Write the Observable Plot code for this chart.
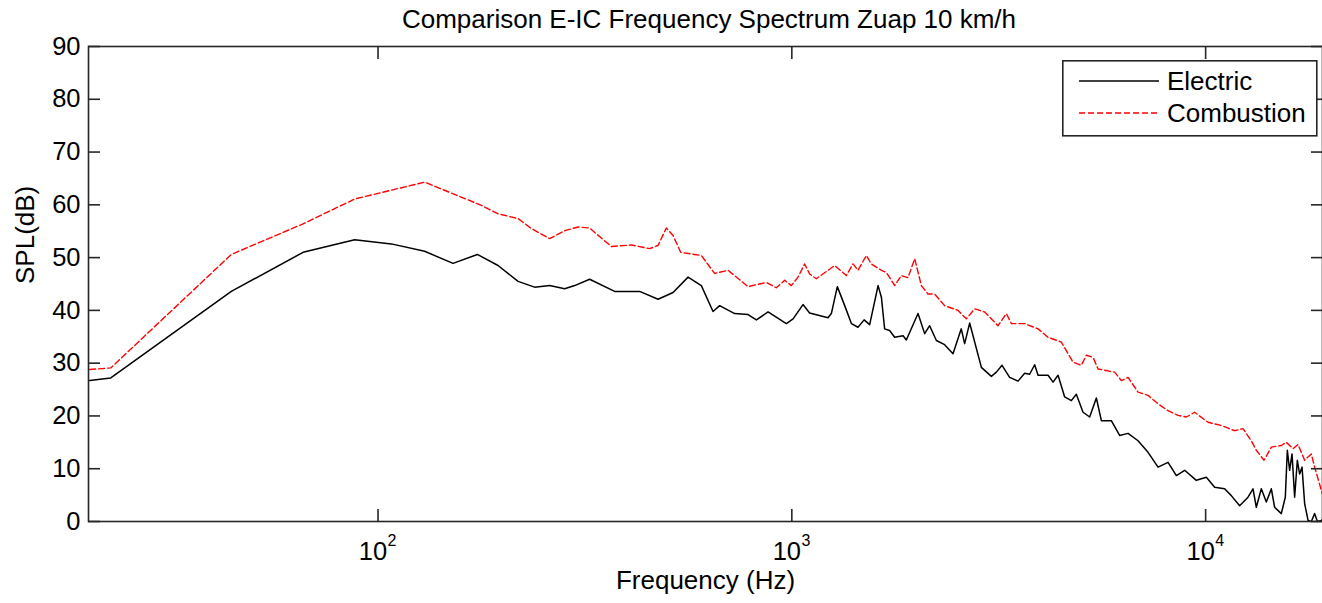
<!DOCTYPE html>
<html>
<head>
<meta charset="utf-8">
<script src="https://cdn.jsdelivr.net/npm/d3@7"></script>
<script src="https://cdn.jsdelivr.net/npm/@observablehq/plot@0.6"></script>
<style>
  html, body { margin: 0; padding: 0; background: #fff; overflow: hidden; }
  body { font-family: "Liberation Sans", Arial, sans-serif; }
  #wrap { position: relative; width: 1322px; height: 603px; overflow: hidden; }
  #title { position: absolute; left: 0; top: 4px; width: 1418px; text-align: center;
           font-size: 26px; line-height: 30px; color: #000; white-space: nowrap; }
  #legend { position: absolute; left: 1062px; top: 60px; }
</style>
</head>
<body>
<div id="wrap">
  <div id="chart"></div>
  <div id="title">Comparison E-IC Frequency Spectrum Zuap 10 km/h</div>
  <div id="legend"></div>
</div>
<script>
// Frequencies (Hz) and SPL (dB)
const electricFreq = [20.1, 22.6, 44.2, 65.9, 87.8, 107.7, 129.6, 151.8, 173.8, 195.0, 218.0, 239.0, 259.8, 282.5, 298.7, 324.6, 373.1, 428.8, 475.0, 516.4, 561.4, 604.4, 645.0, 669.1, 727.5, 783.9, 820.9, 876.1, 969.8, 1007, 1064, 1104, 1223, 1246, 1288, 1342, 1393, 1445, 1495, 1542, 1616, 1646, 1676, 1723, 1772, 1857, 1891, 2018, 2094, 2153, 2235, 2340, 2452, 2567, 2616, 2690, 2871, 3035, 3121, 3221, 3360, 3521, 3653, 3756, 3862, 3936, 4161, 4278, 4399, 4564, 4737, 4870, 5055, 5245, 5444, 5598, 5917, 6197, 6494, 6865, 7258, 7674, 8112, 8497, 8899, 9495, 10040, 10515, 11114, 11536, 12083, 12660, 13016, 13258, 13631, 14018, 14414, 14680, 15237, 15580, 15754, 15959, 16174, 16410, 16658, 16871, 17098, 17348, 17682, 18007, 18342, 18620, 19040, 19252];
const electricSPL = [26.7, 27.2, 43.6, 51.0, 53.4, 52.6, 51.2, 48.9, 50.6, 48.5, 45.5, 44.4, 44.7, 44.1, 44.7, 45.9, 43.6, 43.6, 42.1, 43.4, 46.3, 44.7, 39.8, 40.9, 39.4, 39.2, 38.2, 39.7, 37.5, 38.4, 41.1, 39.5, 38.6, 39.4, 44.5, 40.9, 37.5, 36.8, 38.2, 37.3, 44.7, 42.5, 36.5, 36.2, 34.9, 35.2, 34.4, 39.4, 35.6, 37.1, 34.3, 33.5, 31.8, 36.5, 33.7, 37.6, 29.2, 27.5, 28.3, 29.6, 27.3, 26.6, 28.1, 27.9, 29.7, 27.7, 27.7, 26.4, 27.7, 23.6, 22.9, 24.1, 20.7, 19.8, 23.4, 19.1, 19.1, 16.3, 16.7, 15.3, 13.1, 10.3, 11.2, 8.7, 9.7, 7.8, 8.4, 6.5, 6.2, 4.9, 3.0, 4.6, 6.2, 2.7, 6.2, 3.7, 6.2, 2.7, 1.5, 4.6, 13.5, 9.7, 12.8, 4.6, 11.6, 9.0, 10.3, 3.4, 0.2, 0, 1.5, 0, 0.2, 0.5];

const combustionFreq = [20.1, 22.6, 44.2, 65.9, 87.8, 129.6, 177.7, 195.0, 218.0, 234.7, 259.8, 282.5, 304.3, 324.6, 366.3, 409.4, 453.3, 475.0, 497.4, 516.4, 538.7, 604.4, 650.7, 701.2, 783.9, 867.9, 917.3, 960.8, 997.2, 1035, 1074, 1104, 1146, 1269, 1354, 1406, 1445, 1514, 1556, 1646, 1692, 1772, 1839, 1909, 1981, 2056, 2134, 2214, 2340, 2521, 2641, 2766, 2924, 3150, 3299, 3393, 3653, 3936, 4161, 4480, 4782, 5007, 5149, 5345, 5495, 6027, 6256, 6494, 6865, 7258, 7674, 8112, 8578, 8984, 9406, 10135, 10914, 11750, 12313, 12893, 13258, 13838, 14414, 15237, 15668, 16264, 16723, 17348, 18007, 18342, 19252];
const combustionSPL = [28.8, 29.1, 50.6, 56.4, 61.1, 64.3, 59.9, 58.3, 57.4, 55.5, 53.6, 55.1, 55.8, 55.6, 52.1, 52.4, 51.7, 52.3, 55.6, 54.2, 51.0, 50.4, 47.0, 47.6, 44.5, 45.3, 44.3, 45.7, 44.7, 46.3, 48.8, 46.9, 46.0, 48.5, 46.6, 48.8, 47.6, 50.4, 48.8, 47.6, 47.2, 44.7, 46.6, 46.2, 49.8, 44.7, 43.1, 43.1, 40.9, 40.0, 38.4, 40.3, 39.7, 37.1, 39.4, 37.5, 37.5, 36.5, 34.9, 34.0, 30.2, 29.6, 31.5, 31.1, 28.9, 28.3, 26.7, 27.3, 24.5, 23.9, 22.3, 21.0, 20.1, 19.8, 20.7, 18.8, 18.2, 17.2, 17.6, 15.3, 13.5, 11.6, 14.1, 14.4, 15.0, 13.8, 14.6, 11.6, 12.8, 10.3, 4.6];

const seriesNames = ["Electric", "Combustion"];
const seriesColors = ["#000000", "#ff0000"];
const xTickValues = [100, 1000, 10000];
const xTickExponents = ["2", "3", "4"];
const yTickValues = [0, 10, 20, 30, 40, 50, 60, 70, 80, 90];

const electric = electricFreq.map((f, i) => ({f, spl: electricSPL[i]}));
const combustion = combustionFreq.map((f, i) => ({f, spl: combustionSPL[i]}));

const axisColor = "#262626";
const font = "Liberation Sans, Arial, sans-serif";

const chart = Plot.plot({
  width: 1322,
  height: 603,
  marginTop: 46,
  marginBottom: 82,
  marginLeft: 88,
  marginRight: 0,
  style: {fontFamily: font, background: "white", color: "#000"},
  x: {type: "log", domain: [20, 20000], range: [88.3, 1329.7]},
  y: {domain: [0, 90]},
  marks: [
    Plot.line(combustion, {x: "f", y: "spl", stroke: seriesColors[1], strokeWidth: 1.4, strokeDasharray: "6,3", clip: true}),
    Plot.line(electric, {x: "f", y: "spl", stroke: seriesColors[0], strokeWidth: 1.5, clip: true}),
    Plot.frame({stroke: axisColor, strokeWidth: 1.6}),
    Plot.axisY(yTickValues, {anchor: "left", tickSize: 0, tickPadding: 8, fontSize: 25.5, label: null, fill: "#000"}),
    Plot.axisY(yTickValues, {anchor: "left", tickSize: -12, tickFormat: () => "", label: null, stroke: axisColor, strokeWidth: 1.6}),
    Plot.axisY(yTickValues, {anchor: "right", tickSize: -12, tickFormat: () => "", label: null, stroke: axisColor, strokeWidth: 1.6}),
    Plot.axisX(xTickValues, {anchor: "bottom", tickSize: -12, tickFormat: () => "", label: null, stroke: axisColor, strokeWidth: 1.6}),
    Plot.axisX(xTickValues, {anchor: "top", tickSize: -12, tickFormat: () => "", label: null, stroke: axisColor, strokeWidth: 1.6}),
    Plot.text(xTickValues, {x: d => d, frameAnchor: "bottom", text: () => "10", dx: -5, dy: 38, fontSize: 25.5, fill: "#000"}),
    Plot.text(xTickValues, {x: d => d, frameAnchor: "bottom", text: (d, i) => xTickExponents[i], dx: 14, dy: 24, fontSize: 16, fill: "#000"}),
    Plot.text(["Frequency (Hz)"], {frameAnchor: "bottom", dy: 67, fontSize: 26, fill: "#000"}),
    Plot.text(["SPL(dB)"], {frameAnchor: "left", rotate: -90, dx: -63, fontSize: 26, fill: "#000"})
  ]
});
document.getElementById("chart").appendChild(chart);

// Legend
const lg = d3.select("#legend").append("svg").attr("width", 256).attr("height", 77);
lg.append("rect").attr("x", 0.8).attr("y", 0.8).attr("width", 254).attr("height", 75)
  .attr("fill", "white").attr("stroke", axisColor).attr("stroke-width", 1.6);
seriesNames.forEach((name, i) => {
  const yy = i === 0 ? 21 : 53;
  lg.append("line").attr("x1", 17).attr("x2", 97).attr("y1", yy).attr("y2", yy)
    .attr("stroke", seriesColors[i]).attr("stroke-width", 1.3)
    .attr("stroke-dasharray", i === 1 ? "6,3" : null);
  lg.append("text").attr("x", 105).attr("y", yy).attr("dy", "0.35em")
    .attr("font-size", 26).attr("font-family", font).attr("fill", "#000").text(name);
});
</script>
</body>
</html>
